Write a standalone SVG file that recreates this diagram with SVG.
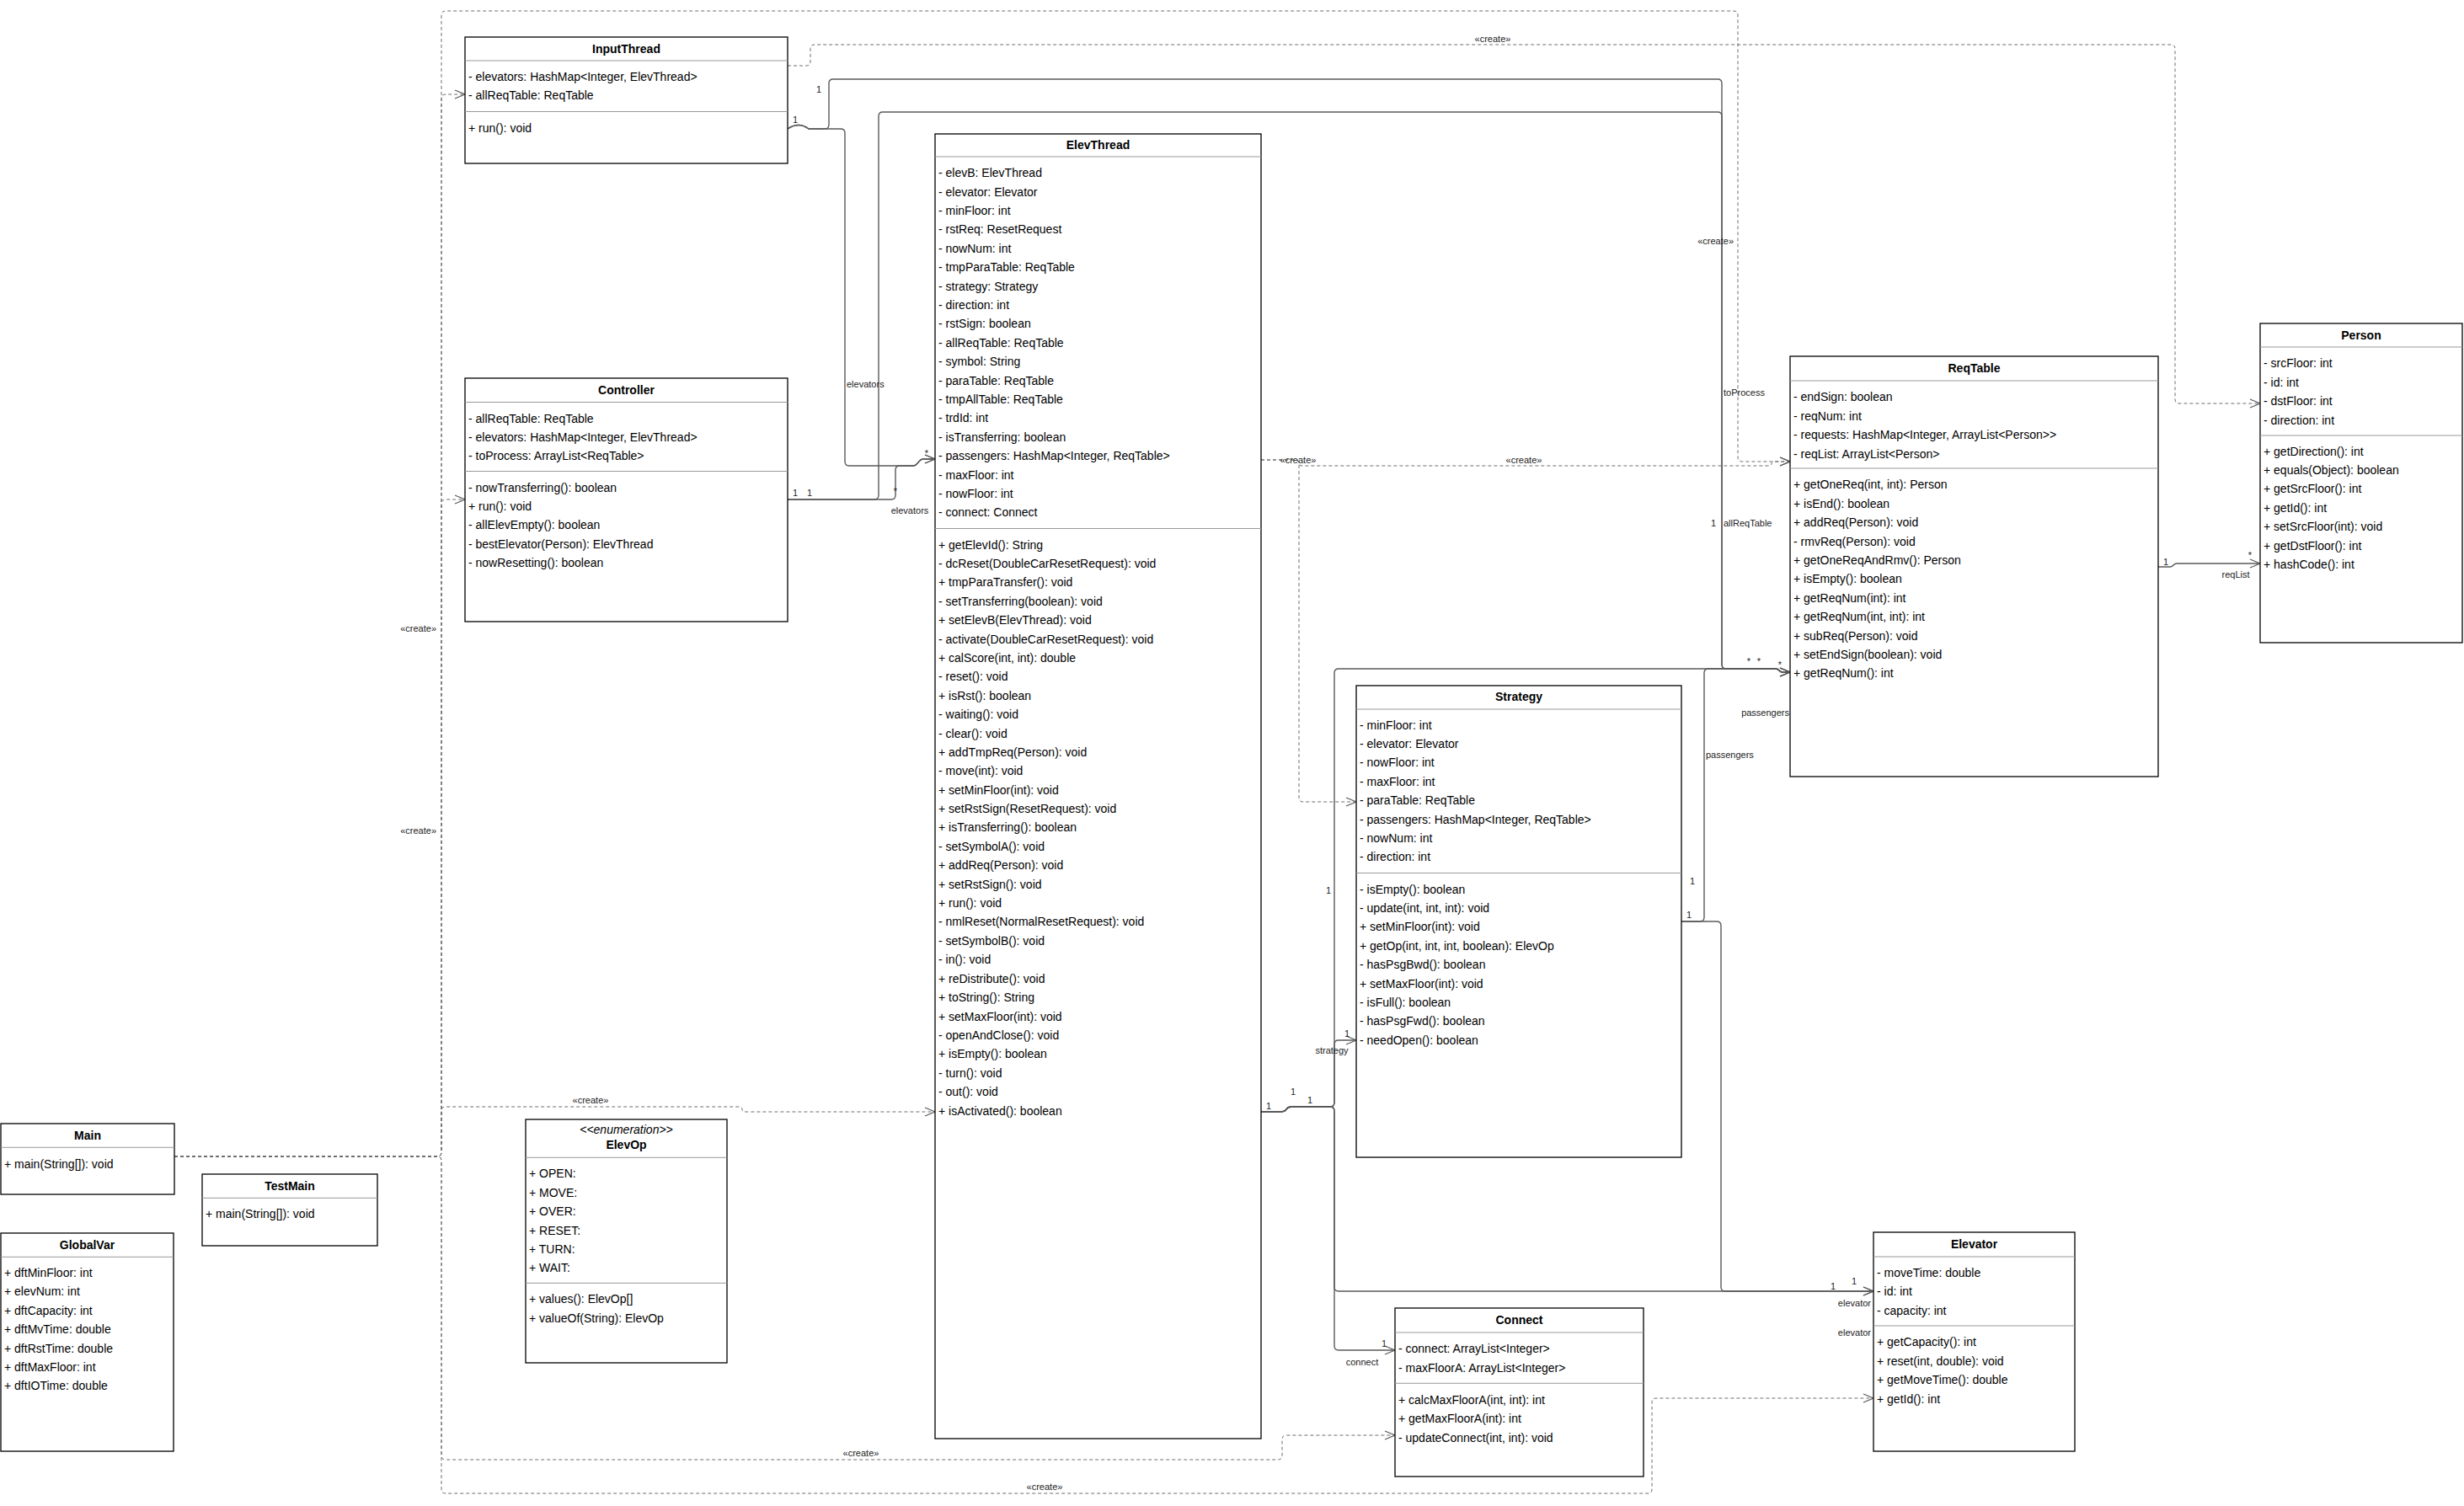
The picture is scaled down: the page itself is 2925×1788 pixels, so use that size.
<svg xmlns="http://www.w3.org/2000/svg" width="2925" height="1788" viewBox="0 0 2925 1788">
<style>
.box{fill:#fff;stroke:#000;stroke-width:1.3}
.sep{stroke:#999;stroke-width:1}
.t{font-family:"Liberation Sans",Arial,sans-serif;font-size:14px;fill:#000}
.ti{font-family:"Liberation Sans",Arial,sans-serif;font-size:14px;font-weight:bold;text-anchor:middle;fill:#000}
.st{font-family:"Liberation Sans",Arial,sans-serif;font-size:14px;font-style:italic;text-anchor:middle;fill:#000}
.e{fill:none;stroke:#5a5a5a;stroke-width:1.4;marker-end:url(#arr)}
.d{fill:none;stroke:#6e6e6e;stroke-width:1;stroke-dasharray:4 3;marker-end:url(#arr)}
.l{font-family:"Liberation Sans",Arial,sans-serif;font-size:11px;fill:#222}
.c{text-anchor:middle}
.r{text-anchor:end}
</style>
<defs>
<marker id="arr" markerUnits="userSpaceOnUse" markerWidth="14" markerHeight="12" refX="13" refY="6" orient="auto" viewBox="0 0 14 12">
<path d="M1,1 L13,6 L1,11" fill="none" stroke="#5a5a5a" stroke-width="1.3"/>
</marker>
</defs>
<rect width="2925" height="1788" fill="#fff"/>

<g id="connectors">
<!-- dashed create edges -->
<path class="d" d="M207,1373 H519 Q524,1373 524,1368 V117 Q524,112 529,112 H552"/>
<path class="d" d="M207,1373 H519 Q524,1373 524,1368 V598 Q524,593 529,593 H552"/>
<path class="d" d="M207,1373 H519 Q524,1373 524,1368 V1319 Q524,1314 529,1314 H876 Q881,1314 881,1317 Q881,1320 886,1320 H1110"/>
<path class="d" d="M207,1373 H519 Q524,1373 524,1378 V1728 Q524,1733 529,1733 H1517 Q1522,1733 1522,1728 V1709 Q1522,1704 1527,1704 H1656"/>
<path class="d" d="M207,1373 H519 Q524,1373 524,1378 V1768 Q524,1773 529,1773 H1956 Q1961,1773 1961,1768 V1665 Q1961,1660 1966,1660 H2224"/>
<path class="d" d="M207,1373 H519 Q524,1373 524,1368 V18 Q524,13 529,13 H2058 Q2063,13 2063,18 V543 Q2063,548 2068,548 H2125"/>
<path class="d" d="M935,78 H957 Q962,78 962,73 V58 Q962,53 967,53 H2577 Q2582,53 2582,58 V474 Q2582,479 2587,479 H2683"/>
<path class="d" d="M1497,546 H1537 Q1542,546 1542,550 Q1542,553 1546,553 H2098 Q2103,553 2103,550.5 Q2103,548 2108,548 H2125"/>
<path class="d" d="M1497,546 H1537 Q1542,546 1542,551 V947 Q1542,952 1547,952 H1610"/>
<!-- solid associations -->
<path class="e" d="M935,153 Q948,144 960,153 H979 Q984,153 984,148 V99 Q984,94 989,94 H2039 Q2044,94 2044,99 V789 Q2044,794 2049,794 H2108 C2112,794 2112,798 2116,798 H2125"/>
<path class="e" d="M935,153 Q948,144 960,153 H998 Q1003,153 1003,158 V548 Q1003,553 1008,553 H1084 C1090,553 1090,545 1096,545 H1110"/>
<path class="e" d="M935,593 H1038 Q1043,593 1043,588 V138 Q1043,133 1048,133 H2039 Q2044,133 2044,138 V789 Q2044,794 2049,794 H2108 C2112,794 2112,798 2116,798 H2125"/>
<path class="e" d="M935,593 H1058 Q1063,593 1063,588 V558 Q1063,553 1068,553 H1084 C1090,553 1090,545 1096,545 H1110"/>
<path class="e" d="M1497,1320 H1520 Q1525,1320 1527,1317 Q1529,1314 1533,1314 H1579 Q1584,1314 1584,1309 V799 Q1584,794 1589,794 H2108 C2112,794 2112,798 2116,798 H2125"/>
<path class="e" d="M1497,1320 H1520 Q1525,1320 1527,1317 Q1529,1314 1533,1314 H1579 Q1584,1314 1584,1309 V1240 Q1584,1235 1589,1235 H1610"/>
<path class="e" d="M1497,1320 H1520 Q1525,1320 1527,1317 Q1529,1314 1533,1314 H1579 Q1584,1314 1584,1319 V1528 Q1584,1533 1589,1533 H2224"/>
<path class="e" d="M1497,1320 H1520 Q1525,1320 1527,1317 Q1529,1314 1533,1314 H1579 Q1584,1314 1584,1319 V1598 Q1584,1603 1589,1603 H1656"/>
<path class="e" d="M1996,1094 H2018 Q2023,1094 2023,1089 V799 Q2023,794 2028,794 H2108 C2112,794 2112,798 2116,798 H2125"/>
<path class="e" d="M1996,1094 H2038 Q2043,1094 2043,1099 V1528 Q2043,1533 2048,1533 H2224"/>
<path class="e" d="M2562,673 H2576 C2580,673 2580,669 2584,669 H2683"/>
<!-- labels -->
<text class="l c" x="1772" y="50">«create»</text>
<text class="l r" x="2058" y="290">«create»</text>
<text class="l r" x="518" y="750">«create»</text>
<text class="l r" x="518" y="990">«create»</text>
<text class="l c" x="1541" y="550">«create»</text>
<text class="l c" x="1809" y="550">«create»</text>
<text class="l c" x="701" y="1310">«create»</text>
<text class="l c" x="1022" y="1729">«create»</text>
<text class="l c" x="1240" y="1769">«create»</text>
<text class="l c" x="944" y="146">1</text>
<text class="l c" x="972" y="110">1</text>
<text class="l" x="1005" y="460">elevators</text>
<text class="l c" x="1100" y="542">*</text>
<text class="l c" x="944" y="589">1</text>
<text class="l c" x="961" y="589">1</text>
<text class="l c" x="1063" y="587">*</text>
<text class="l c" x="1080" y="610">elevators</text>
<text class="l" x="2046" y="470">toProcess</text>
<text class="l c" x="2034" y="625">1</text>
<text class="l" x="2046" y="625">allReqTable</text>
<text class="l c" x="2076" y="789">*</text>
<text class="l c" x="2088" y="789">*</text>
<text class="l c" x="2113" y="793">*</text>
<text class="l r" x="2124" y="850">passengers</text>
<text class="l" x="2025" y="900">passengers</text>
<text class="l c" x="2009" y="1050">1</text>
<text class="l c" x="2005" y="1090">1</text>
<text class="l c" x="1577" y="1061">1</text>
<text class="l c" x="1599" y="1231">1</text>
<text class="l c" x="1581" y="1251">strategy</text>
<text class="l c" x="1506" y="1317">1</text>
<text class="l c" x="1535" y="1300">1</text>
<text class="l c" x="1555" y="1310">1</text>
<text class="l c" x="2176" y="1531">1</text>
<text class="l c" x="2201" y="1525">1</text>
<text class="l r" x="2221" y="1551">elevator</text>
<text class="l r" x="2221" y="1586">elevator</text>
<text class="l c" x="1643" y="1599">1</text>
<text class="l c" x="1617" y="1621">connect</text>
<text class="l c" x="2571" y="671">1</text>
<text class="l c" x="2671" y="663">*</text>
<text class="l c" x="2654" y="686">reqList</text>
</g>

<g id="InputThread">
<rect class="box" x="552" y="44" width="383" height="150"/>
<text class="ti" x="743.5" y="63">InputThread</text>
<line class="sep" x1="552" y1="72" x2="935" y2="72"/>
<text class="t" x="556" y="96"><tspan x="556">- elevators: HashMap&lt;Integer, ElevThread&gt;</tspan><tspan x="556" dy="22.4">- allReqTable: ReqTable</tspan></text>
<line class="sep" x1="552" y1="132.5" x2="935" y2="132.5"/>
<text class="t" x="556" y="156.5">+ run(): void</text>
</g>

<g id="Controller">
<rect class="box" x="552" y="449" width="383" height="289"/>
<text class="ti" x="743.5" y="468">Controller</text>
<line class="sep" x1="552" y1="477.5" x2="935" y2="477.5"/>
<text class="t" x="556" y="501.5"><tspan x="556">- allReqTable: ReqTable</tspan><tspan x="556" dy="22.4">- elevators: HashMap&lt;Integer, ElevThread&gt;</tspan><tspan x="556" dy="22.4">- toProcess: ArrayList&lt;ReqTable&gt;</tspan></text>
<line class="sep" x1="552" y1="559.5" x2="935" y2="559.5"/>
<text class="t" x="556" y="583.5"><tspan x="556">- nowTransferring(): boolean</tspan><tspan x="556" dy="22.4">+ run(): void</tspan><tspan x="556" dy="22.4">- allElevEmpty(): boolean</tspan><tspan x="556" dy="22.4">- bestElevator(Person): ElevThread</tspan><tspan x="556" dy="22.4">- nowResetting(): boolean</tspan></text>
</g>

<g id="ElevThread">
<rect class="box" x="1110" y="159" width="387" height="1549"/>
<text class="ti" x="1303.5" y="177">ElevThread</text>
<line class="sep" x1="1110" y1="186" x2="1497" y2="186"/>
<text class="t" x="1114" y="210.2"><tspan x="1114">- elevB: ElevThread</tspan><tspan x="1114" dy="22.4">- elevator: Elevator</tspan><tspan x="1114" dy="22.4">- minFloor: int</tspan><tspan x="1114" dy="22.4">- rstReq: ResetRequest</tspan><tspan x="1114" dy="22.4">- nowNum: int</tspan><tspan x="1114" dy="22.4">- tmpParaTable: ReqTable</tspan><tspan x="1114" dy="22.4">- strategy: Strategy</tspan><tspan x="1114" dy="22.4">- direction: int</tspan><tspan x="1114" dy="22.4">- rstSign: boolean</tspan><tspan x="1114" dy="22.4">- allReqTable: ReqTable</tspan><tspan x="1114" dy="22.4">- symbol: String</tspan><tspan x="1114" dy="22.4">- paraTable: ReqTable</tspan><tspan x="1114" dy="22.4">- tmpAllTable: ReqTable</tspan><tspan x="1114" dy="22.4">- trdId: int</tspan><tspan x="1114" dy="22.4">- isTransferring: boolean</tspan><tspan x="1114" dy="22.4">- passengers: HashMap&lt;Integer, ReqTable&gt;</tspan><tspan x="1114" dy="22.4">- maxFloor: int</tspan><tspan x="1114" dy="22.4">- nowFloor: int</tspan><tspan x="1114" dy="22.4">- connect: Connect</tspan></text>
<line class="sep" x1="1110" y1="627.5" x2="1497" y2="627.5"/>
<text class="t" x="1114" y="651.5"><tspan x="1114">+ getElevId(): String</tspan><tspan x="1114" dy="22.4">- dcReset(DoubleCarResetRequest): void</tspan><tspan x="1114" dy="22.4">+ tmpParaTransfer(): void</tspan><tspan x="1114" dy="22.4">- setTransferring(boolean): void</tspan><tspan x="1114" dy="22.4">+ setElevB(ElevThread): void</tspan><tspan x="1114" dy="22.4">- activate(DoubleCarResetRequest): void</tspan><tspan x="1114" dy="22.4">+ calScore(int, int): double</tspan><tspan x="1114" dy="22.4">- reset(): void</tspan><tspan x="1114" dy="22.4">+ isRst(): boolean</tspan><tspan x="1114" dy="22.4">- waiting(): void</tspan><tspan x="1114" dy="22.4">- clear(): void</tspan><tspan x="1114" dy="22.4">+ addTmpReq(Person): void</tspan><tspan x="1114" dy="22.4">- move(int): void</tspan><tspan x="1114" dy="22.4">+ setMinFloor(int): void</tspan><tspan x="1114" dy="22.4">+ setRstSign(ResetRequest): void</tspan><tspan x="1114" dy="22.4">+ isTransferring(): boolean</tspan><tspan x="1114" dy="22.4">- setSymbolA(): void</tspan><tspan x="1114" dy="22.4">+ addReq(Person): void</tspan><tspan x="1114" dy="22.4">+ setRstSign(): void</tspan><tspan x="1114" dy="22.4">+ run(): void</tspan><tspan x="1114" dy="22.4">- nmlReset(NormalResetRequest): void</tspan><tspan x="1114" dy="22.4">- setSymbolB(): void</tspan><tspan x="1114" dy="22.4">- in(): void</tspan><tspan x="1114" dy="22.4">+ reDistribute(): void</tspan><tspan x="1114" dy="22.4">+ toString(): String</tspan><tspan x="1114" dy="22.4">+ setMaxFloor(int): void</tspan><tspan x="1114" dy="22.4">- openAndClose(): void</tspan><tspan x="1114" dy="22.4">+ isEmpty(): boolean</tspan><tspan x="1114" dy="22.4">- turn(): void</tspan><tspan x="1114" dy="22.4">- out(): void</tspan><tspan x="1114" dy="22.4">+ isActivated(): boolean</tspan></text>
</g>

<g id="Strategy">
<rect class="box" x="1610" y="814" width="386" height="560"/>
<text class="ti" x="1803" y="832">Strategy</text>
<line class="sep" x1="1610" y1="842" x2="1996" y2="842"/>
<text class="t" x="1614" y="865.5"><tspan x="1614">- minFloor: int</tspan><tspan x="1614" dy="22.4">- elevator: Elevator</tspan><tspan x="1614" dy="22.4">- nowFloor: int</tspan><tspan x="1614" dy="22.4">- maxFloor: int</tspan><tspan x="1614" dy="22.4">- paraTable: ReqTable</tspan><tspan x="1614" dy="22.4">- passengers: HashMap&lt;Integer, ReqTable&gt;</tspan><tspan x="1614" dy="22.4">- nowNum: int</tspan><tspan x="1614" dy="22.4">- direction: int</tspan></text>
<line class="sep" x1="1610" y1="1036.5" x2="1996" y2="1036.5"/>
<text class="t" x="1614" y="1060.6"><tspan x="1614">- isEmpty(): boolean</tspan><tspan x="1614" dy="22.4">- update(int, int, int): void</tspan><tspan x="1614" dy="22.4">+ setMinFloor(int): void</tspan><tspan x="1614" dy="22.4">+ getOp(int, int, int, boolean): ElevOp</tspan><tspan x="1614" dy="22.4">- hasPsgBwd(): boolean</tspan><tspan x="1614" dy="22.4">+ setMaxFloor(int): void</tspan><tspan x="1614" dy="22.4">- isFull(): boolean</tspan><tspan x="1614" dy="22.4">- hasPsgFwd(): boolean</tspan><tspan x="1614" dy="22.4">- needOpen(): boolean</tspan></text>
</g>

<g id="ReqTable">
<rect class="box" x="2125" y="423" width="437" height="499"/>
<text class="ti" x="2343.5" y="441.7">ReqTable</text>
<line class="sep" x1="2125" y1="452" x2="2562" y2="452"/>
<text class="t" x="2129" y="476.3"><tspan x="2129">- endSign: boolean</tspan><tspan x="2129" dy="22.4">- reqNum: int</tspan><tspan x="2129" dy="22.4">- requests: HashMap&lt;Integer, ArrayList&lt;Person&gt;&gt;</tspan><tspan x="2129" dy="22.4">- reqList: ArrayList&lt;Person&gt;</tspan></text>
<line class="sep" x1="2125" y1="556" x2="2562" y2="556"/>
<text class="t" x="2129" y="580.3"><tspan x="2129">+ getOneReq(int, int): Person</tspan><tspan x="2129" dy="22.4">+ isEnd(): boolean</tspan><tspan x="2129" dy="22.4">+ addReq(Person): void</tspan><tspan x="2129" dy="22.4">- rmvReq(Person): void</tspan><tspan x="2129" dy="22.4">+ getOneReqAndRmv(): Person</tspan><tspan x="2129" dy="22.4">+ isEmpty(): boolean</tspan><tspan x="2129" dy="22.4">+ getReqNum(int): int</tspan><tspan x="2129" dy="22.4">+ getReqNum(int, int): int</tspan><tspan x="2129" dy="22.4">+ subReq(Person): void</tspan><tspan x="2129" dy="22.4">+ setEndSign(boolean): void</tspan><tspan x="2129" dy="22.4">+ getReqNum(): int</tspan></text>
</g>

<g id="Person">
<rect class="box" x="2683" y="384" width="240" height="379"/>
<text class="ti" x="2803" y="403">Person</text>
<line class="sep" x1="2683" y1="412" x2="2923" y2="412"/>
<text class="t" x="2687" y="436.3"><tspan x="2687">- srcFloor: int</tspan><tspan x="2687" dy="22.4">- id: int</tspan><tspan x="2687" dy="22.4">- dstFloor: int</tspan><tspan x="2687" dy="22.4">- direction: int</tspan></text>
<line class="sep" x1="2683" y1="517" x2="2923" y2="517"/>
<text class="t" x="2687" y="540.5"><tspan x="2687">+ getDirection(): int</tspan><tspan x="2687" dy="22.4">+ equals(Object): boolean</tspan><tspan x="2687" dy="22.4">+ getSrcFloor(): int</tspan><tspan x="2687" dy="22.4">+ getId(): int</tspan><tspan x="2687" dy="22.4">+ setSrcFloor(int): void</tspan><tspan x="2687" dy="22.4">+ getDstFloor(): int</tspan><tspan x="2687" dy="22.4">+ hashCode(): int</tspan></text>
</g>

<g id="Elevator">
<rect class="box" x="2224" y="1463" width="239" height="260"/>
<text class="ti" x="2343.5" y="1482">Elevator</text>
<line class="sep" x1="2224" y1="1492" x2="2463" y2="1492"/>
<text class="t" x="2228" y="1516"><tspan x="2228">- moveTime: double</tspan><tspan x="2228" dy="22.4">- id: int</tspan><tspan x="2228" dy="22.4">- capacity: int</tspan></text>
<line class="sep" x1="2224" y1="1574" x2="2463" y2="1574"/>
<text class="t" x="2228" y="1598.3"><tspan x="2228">+ getCapacity(): int</tspan><tspan x="2228" dy="22.4">+ reset(int, double): void</tspan><tspan x="2228" dy="22.4">+ getMoveTime(): double</tspan><tspan x="2228" dy="22.4">+ getId(): int</tspan></text>
</g>

<g id="Connect">
<rect class="box" x="1656" y="1553" width="295" height="200"/>
<text class="ti" x="1803.5" y="1572">Connect</text>
<line class="sep" x1="1656" y1="1582" x2="1951" y2="1582"/>
<text class="t" x="1660" y="1606.3"><tspan x="1660">- connect: ArrayList&lt;Integer&gt;</tspan><tspan x="1660" dy="22.4">- maxFloorA: ArrayList&lt;Integer&gt;</tspan></text>
<line class="sep" x1="1656" y1="1642.3" x2="1951" y2="1642.3"/>
<text class="t" x="1660" y="1666.7"><tspan x="1660">+ calcMaxFloorA(int, int): int</tspan><tspan x="1660" dy="22.4">+ getMaxFloorA(int): int</tspan><tspan x="1660" dy="22.4">- updateConnect(int, int): void</tspan></text>
</g>

<g id="Main">
<rect class="box" x="1" y="1334" width="206" height="84"/>
<text class="ti" x="104" y="1353">Main</text>
<line class="sep" x1="1" y1="1362.3" x2="207" y2="1362.3"/>
<text class="t" x="5" y="1386.5">+ main(String[]): void</text>
</g>

<g id="TestMain">
<rect class="box" x="240" y="1394" width="208" height="85"/>
<text class="ti" x="344" y="1413">TestMain</text>
<line class="sep" x1="240" y1="1422.3" x2="448" y2="1422.3"/>
<text class="t" x="244" y="1446.3">+ main(String[]): void</text>
</g>

<g id="GlobalVar">
<rect class="box" x="1" y="1464" width="205" height="259"/>
<text class="ti" x="103.5" y="1483">GlobalVar</text>
<line class="sep" x1="1" y1="1492.3" x2="206" y2="1492.3"/>
<text class="t" x="5" y="1516"><tspan x="5">+ dftMinFloor: int</tspan><tspan x="5" dy="22.4">+ elevNum: int</tspan><tspan x="5" dy="22.4">+ dftCapacity: int</tspan><tspan x="5" dy="22.4">+ dftMvTime: double</tspan><tspan x="5" dy="22.4">+ dftRstTime: double</tspan><tspan x="5" dy="22.4">+ dftMaxFloor: int</tspan><tspan x="5" dy="22.4">+ dftIOTime: double</tspan></text>
</g>

<g id="ElevOp">
<rect class="box" x="624" y="1329" width="239" height="289"/>
<text class="st" x="743.5" y="1346">&lt;&lt;enumeration&gt;&gt;</text>
<text class="ti" x="743.5" y="1363.5">ElevOp</text>
<line class="sep" x1="624" y1="1374.3" x2="863" y2="1374.3"/>
<text class="t" x="628" y="1398.3"><tspan x="628">+ OPEN:</tspan><tspan x="628" dy="22.4">+ MOVE:</tspan><tspan x="628" dy="22.4">+ OVER:</tspan><tspan x="628" dy="22.4">+ RESET:</tspan><tspan x="628" dy="22.4">+ TURN:</tspan><tspan x="628" dy="22.4">+ WAIT:</tspan></text>
<line class="sep" x1="624" y1="1523.3" x2="863" y2="1523.3"/>
<text class="t" x="628" y="1547.3"><tspan x="628">+ values(): ElevOp[]</tspan><tspan x="628" dy="22.4">+ valueOf(String): ElevOp</tspan></text>
</g>
</svg>
